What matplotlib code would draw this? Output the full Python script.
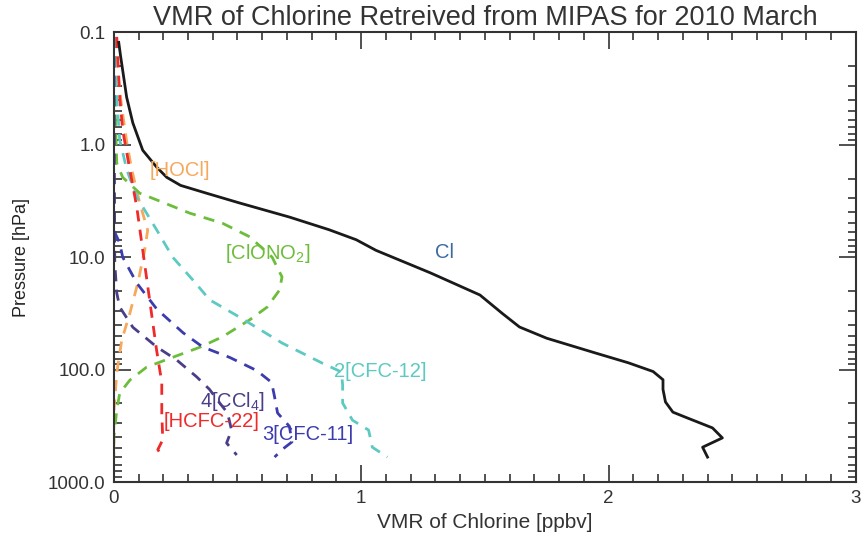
#!/usr/bin/env python3
"""
VMR of chlorine species retrieved from MIPAS, March 2010
"""
import matplotlib
matplotlib.use('Agg')
import matplotlib.pyplot as plt
from matplotlib.ticker import FixedLocator, LogLocator, MultipleLocator, NullFormatter

plt.rcParams['font.family'] = ['Liberation Sans', 'DejaVu Sans']
plt.rcParams['mathtext.fontset'] = 'custom'
plt.rcParams['mathtext.rm'] = 'Liberation Sans'
plt.rcParams['mathtext.default'] = 'rm'

# values (pressure in hPa, VMR in ppbv)
cl_p = [0.123, 0.16, 0.218, 0.378, 0.64, 1.12, 1.58, 1.95, 2.3, 2.7, 3.3, 4.4,
        5.7, 7.0, 8.7, 13.8, 21.7, 31.6, 41.8, 52.6, 71.5, 87, 104, 123, 150,
        194, 239, 270, 330, 405, 490, 600]
cl_x = [0.02, 0.027, 0.036, 0.052, 0.077, 0.117, 0.173, 0.214, 0.27, 0.375,
        0.509, 0.71, 0.87, 0.98, 1.06, 1.28, 1.48, 1.57, 1.64, 1.75, 1.95,
        2.08, 2.18, 2.22, 2.22, 2.23, 2.26, 2.32, 2.42, 2.46, 2.38, 2.40]

hocl_p = [0.11, 0.189, 0.464, 0.97, 1.68, 3.31, 5.75, 8.66, 17.0, 31.5, 54.8,
          107, 243, 600]
hocl_x = [0.0, 0.012, 0.032, 0.053, 0.073, 0.105, 0.137, 0.125, 0.097, 0.065,
          0.032, 0.012, 0.0, 0.0]

hcfc22_p = [0.11, 0.378, 0.74, 1.68, 3.59, 8.66, 24.1, 67, 130, 243, 420, 515,
            600]
hcfc22_x = [0.012, 0.024, 0.036, 0.065, 0.093, 0.117, 0.145, 0.173, 0.194,
            0.194, 0.198, 0.178, 0.198]

cfc12_p = [0.11, 0.378, 0.91, 1.68, 2.92, 5.75, 10.0, 16, 24, 34.3, 58, 87,
           105, 137, 198, 282, 345, 490, 600]
cfc12_x = [0.0, 0.012, 0.024, 0.053, 0.093, 0.174, 0.238, 0.32, 0.388, 0.51,
           0.68, 0.84, 0.92, 0.925, 0.925, 0.965, 1.03, 1.045, 1.106]

clono2_p = [0.11, 0.378, 1.46, 1.95, 2.7, 3.1, 4.06, 5.0, 6.6, 10, 15, 19.6,
            27.8, 36, 51, 63, 82, 95, 124, 162, 230, 400, 600]
clono2_x = [0.0, 0.004, 0.012, 0.036, 0.105, 0.174, 0.307, 0.44, 0.55, 0.64,
            0.68, 0.67, 0.62, 0.55, 0.44, 0.35, 0.21, 0.133, 0.065, 0.024,
            0.012, 0.0, 0.0]

cfc11_p = [0.11, 5.75, 7.5, 10, 17, 29, 47, 63, 78, 102, 130, 175, 243, 320,
           440, 515, 600]
cfc11_x = [0.0, 0.0, 0.024, 0.036, 0.093, 0.174, 0.28, 0.36, 0.469, 0.578,
           0.638, 0.65, 0.662, 0.71, 0.72, 0.68, 0.65]

ccl4_p = [0.11, 11.3, 20.8, 27.8, 42, 63, 82, 116, 150, 198, 243, 345, 450,
          575]
ccl4_x = [0.0, 0.004, 0.012, 0.024, 0.077, 0.174, 0.254, 0.335, 0.387, 0.428,
          0.46, 0.476, 0.456, 0.497]

yticks = [0.1, 1.0, 10.0, 100.0, 1000.0]
ytick_labels = ['0.1', '1.0', '10.0', '100.0', '1000.0']

fig = plt.figure(figsize=(8.62, 5.38), dpi=100)
ax = fig.add_axes([0.132, 0.104, 0.861, 0.836])

dash = dict(linestyle=(0, (4, 3)), linewidth=2)
ax.plot(hocl_x, hocl_p, color='#f6a85c', **dash)
ax.plot(clono2_x, clono2_p, color='#6cbd3a', **dash)
ax.plot(cfc12_x, cfc12_p, color='#5ccac2', **dash)
ax.plot(ccl4_x, ccl4_p, color='#4b3d88', **dash)
ax.plot(cfc11_x, cfc11_p, color='#3c3cae', **dash)
ax.plot(hcfc22_x, hcfc22_p, color='#ee2a2a', **dash)
ax.plot(cl_x, cl_p, color='#1a1a1a', linewidth=2)

# labels
fs = 14.5
ax.text(0.145, 1.7, '[HOCl]', color='#f6a85c', fontsize=fs, va='center')
ax.text(0.45, 9.3, r'[ClONO$_2$]', color='#6cbd3a', fontsize=fs, va='center')
ax.text(1.30, 9.0, 'Cl', color='#3b6aa0', fontsize=fs, va='center')
ax.text(0.89, 104, '2[CFC-12]', color='#5ccac2', fontsize=fs, va='center')
ax.text(0.35, 192, r'4[CCl$_4$]', color='#4b3d88', fontsize=fs, va='center')
ax.text(0.20, 292, '[HCFC-22]', color='#ee2a2a', fontsize=fs, va='center')
ax.text(0.60, 375, '3[CFC-11]', color='#3c3cae', fontsize=fs, va='center')

ax.set_yscale('log')
ax.set_xlim(0, 3)
ax.set_ylim(1000, 0.1)
ax.yaxis.set_major_locator(FixedLocator(yticks))
ax.set_yticklabels(ytick_labels)
ax.yaxis.set_minor_locator(LogLocator(base=10, subs=range(2, 10), numticks=20))
ax.yaxis.set_minor_formatter(NullFormatter())
ax.xaxis.set_major_locator(MultipleLocator(1))
ax.xaxis.set_minor_locator(MultipleLocator(0.1))

ax.tick_params(which='both', direction='in', top=True, right=True,
               colors='#333333', labelsize=13.5, width=1.2)
ax.tick_params(which='major', length=12, pad=6)
ax.tick_params(which='minor', length=6)
for s in ax.spines.values():
    s.set_color('#333333')
    s.set_linewidth(1.5)

ax.set_xlabel('VMR of Chlorine [ppbv]', fontsize=15, color='#333333', labelpad=4)
ax.set_ylabel('Pressure [hPa]', fontsize=13, color='#222222', labelpad=13)
ax.set_title('VMR of Chlorine Retreived from MIPAS for 2010 March',
             fontsize=19.5, color='#333333', pad=5)

fig.savefig('out.png', dpi=100)
